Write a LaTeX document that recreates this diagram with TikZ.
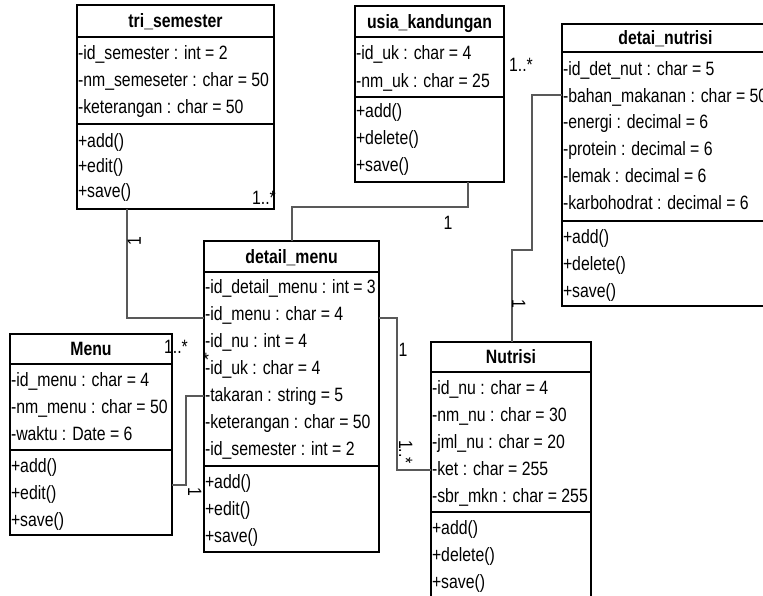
\documentclass[tikz,border=0pt]{standalone}
\usepackage{fontspec}
\setmainfont{Liberation Sans}[FakeStretch=0.82]
\begin{document}
\begin{tikzpicture}[x=1pt,y=-1pt,
  every node/.style={font=\fontsize{19.3}{22}\selectfont},
  umlbox/.style={draw=black,line width=1.3pt,rectangle,inner sep=0pt,outer sep=0pt,anchor=north west},
  sepline/.style={draw=black,line width=1.3pt},
  row/.style={anchor=west,inner sep=0pt,outer sep=0pt,text height=13.8pt,text depth=0pt},
  title/.style={font=\fontsize{19.3}{22}\selectfont\bfseries,inner sep=0pt,text height=13.8pt,text depth=0pt},
  conn/.style={draw=black!65,line width=1.1pt},
  mult/.style={inner sep=0pt,text height=13.8pt,text depth=0pt},
  star/.style={inner sep=0pt,text height=6pt,text depth=0pt}
]
\useasboundingbox (0,0) rectangle (763,596);
\begin{scope}
\clip (0,0) rectangle (763,596);

% ---------- tri_semester ----------
\node[umlbox,minimum width=197pt,minimum height=204pt] (tri) at (77,5) {};
\draw[sepline] (tri.west |- 0,37) -- (tri.east |- 0,37);
\draw[sepline] (tri.west |- 0,124) -- (tri.east |- 0,124);
\node[title] (tritt) at (175.5,21) {tri\_semester};
\node[row] (tri1) at (78,53) {-id\_semester : int = 2};
\node[row] (tri2) at (78,80) {-nm\_semeseter : char = 50};
\node[row] (tri3) at (78,107) {-keterangan : char = 50};
\node[row] (tri4) at (78,141) {+add()};
\node[row] (tri5) at (78,166) {+edit()};
\node[row] (tri6) at (78,191) {+save()};

% ---------- usia_kandungan ----------
\node[umlbox,minimum width=149pt,minimum height=176pt] (usia) at (355,6) {};
\draw[sepline] (usia.west |- 0,37) -- (usia.east |- 0,37);
\draw[sepline] (usia.west |- 0,97) -- (usia.east |- 0,97);
\node[title] (usiatt) at (429.5,22) {usia\_kandungan};
\node[row] (us1) at (356,53) {-id\_uk : char = 4};
\node[row] (us2) at (356,81) {-nm\_uk : char = 25};
\node[row] (us3) at (356,111) {+add()};
\node[row] (us4) at (356,138) {+delete()};
\node[row] (us5) at (356,165) {+save()};

% ---------- detai_nutrisi ----------
\node[umlbox,minimum width=207pt,minimum height=282pt] (dnut) at (562,24) {};
\draw[sepline] (dnut.west |- 0,52) -- (dnut.east |- 0,52);
\draw[sepline] (dnut.west |- 0,221) -- (dnut.east |- 0,221);
\node[title] (dnuttt) at (665.5,37.5) {detai\_nutrisi};
\node[row] (dn1) at (563,69) {-id\_det\_nut : char = 5};
\node[row] (dn2) at (563,95.5) {-bahan\_makanan : char = 50};
\node[row] (dn3) at (563,122) {-energi : decimal = 6};
\node[row] (dn4) at (563,149) {-protein : decimal = 6};
\node[row] (dn5) at (563,176) {-lemak : decimal = 6};
\node[row] (dn6) at (563,203) {-karbohodrat : decimal = 6};
\node[row] (dn7) at (563,237) {+add()};
\node[row] (dn8) at (563,264) {+delete()};
\node[row] (dn9) at (563,291) {+save()};

% ---------- detail_menu ----------
\node[umlbox,minimum width=175pt,minimum height=311pt] (dm) at (204,241) {};
\draw[sepline] (dm.west |- 0,272) -- (dm.east |- 0,272);
\draw[sepline] (dm.west |- 0,466) -- (dm.east |- 0,466);
\node[title] (dmtt) at (291.5,256.5) {detail\_menu};
\node[row] (dm1) at (205,287) {-id\_detail\_menu : int = 3};
\node[row] (dm2) at (205,314) {-id\_menu : char = 4};
\node[row] (dm3) at (205,341) {-id\_nu : int = 4};
\node[row] (dm4) at (205,368) {-id\_uk : char = 4};
\node[row] (dm5) at (205,395) {-takaran : string = 5};
\node[row] (dm6) at (205,422) {-keterangan : char = 50};
\node[row] (dm7) at (205,449) {-id\_semester : int = 2};
\node[row] (dm8) at (205,482) {+add()};
\node[row] (dm9) at (205,509) {+edit()};
\node[row] (dm10) at (205,536) {+save()};

% ---------- Menu ----------
\node[umlbox,minimum width=162pt,minimum height=201pt] (menu) at (10,334) {};
\draw[sepline] (menu.west |- 0,364) -- (menu.east |- 0,364);
\draw[sepline] (menu.west |- 0,450) -- (menu.east |- 0,450);
\node[title] (menutt) at (91,349) {Menu};
\node[row] (me1) at (11,380) {-id\_menu : char = 4};
\node[row] (me2) at (11,407) {-nm\_menu : char = 50};
\node[row] (me3) at (11,434) {-waktu : Date = 6};
\node[row] (me4) at (11,466) {+add()};
\node[row] (me5) at (11,493) {+edit()};
\node[row] (me6) at (11,520) {+save()};

% ---------- Nutrisi ----------
\node[umlbox,minimum width=160pt,minimum height=262pt] (nu) at (431,342) {};
\draw[sepline] (nu.west |- 0,372) -- (nu.east |- 0,372);
\draw[sepline] (nu.west |- 0,512) -- (nu.east |- 0,512);
\node[title] (nutt) at (511,357) {Nutrisi};
\node[row] (nu1) at (432,388) {-id\_nu : char = 4};
\node[row] (nu2) at (432,415) {-nm\_nu : char = 30};
\node[row] (nu3) at (432,442) {-jml\_nu : char = 20};
\node[row] (nu4) at (432,469) {-ket : char = 255};
\node[row] (nu5) at (432,496) {-sbr\_mkn : char = 255};
\node[row] (nu6) at (432,528) {+add()};
\node[row] (nu7) at (432,555) {+delete()};
\node[row] (nu8) at (432,582) {+save()};

% ---------- connectors ----------
\draw[conn] (tri.south -| 127,0) |- (dm.west |- 0,318);
\draw[conn] (usia.south -| 468,0) -- (468,207) -| (dm.north -| 292,0);
\draw[conn] (menu.east |- 0,485) -- (186,485) |- (dm.west |- 0,396);
\draw[conn] (dm.east |- 0,318) -- (397,318) |- (nu.west |- 0,470);
\draw[conn] (nu.north -| 512,0) -- (512,250) -| (532,95) -- (dnut.west |- 0,95);

% ---------- multiplicities ----------
\node[mult,rotate=90] (m1) at (134,241) {1};
\node[mult] (m2) at (264,198) {1..*};
\node[mult] (m3) at (448,223) {1};
\node[mult] (m4) at (176,347) {1..*};
\node[star] (m5) at (206,355) {\raisebox{-8.2pt}{*}};
\node[mult,rotate=-90] (m6) at (195,492) {1};
\node[mult] (m7) at (403,350) {1};
\node[mult,rotate=-90] (m8) at (406,452) {1..*};
\node[mult,rotate=-90] (m9) at (519,304) {1};
\node[mult] (m10) at (521,65) {1..*};
\end{scope}
\end{tikzpicture}
\end{document}
